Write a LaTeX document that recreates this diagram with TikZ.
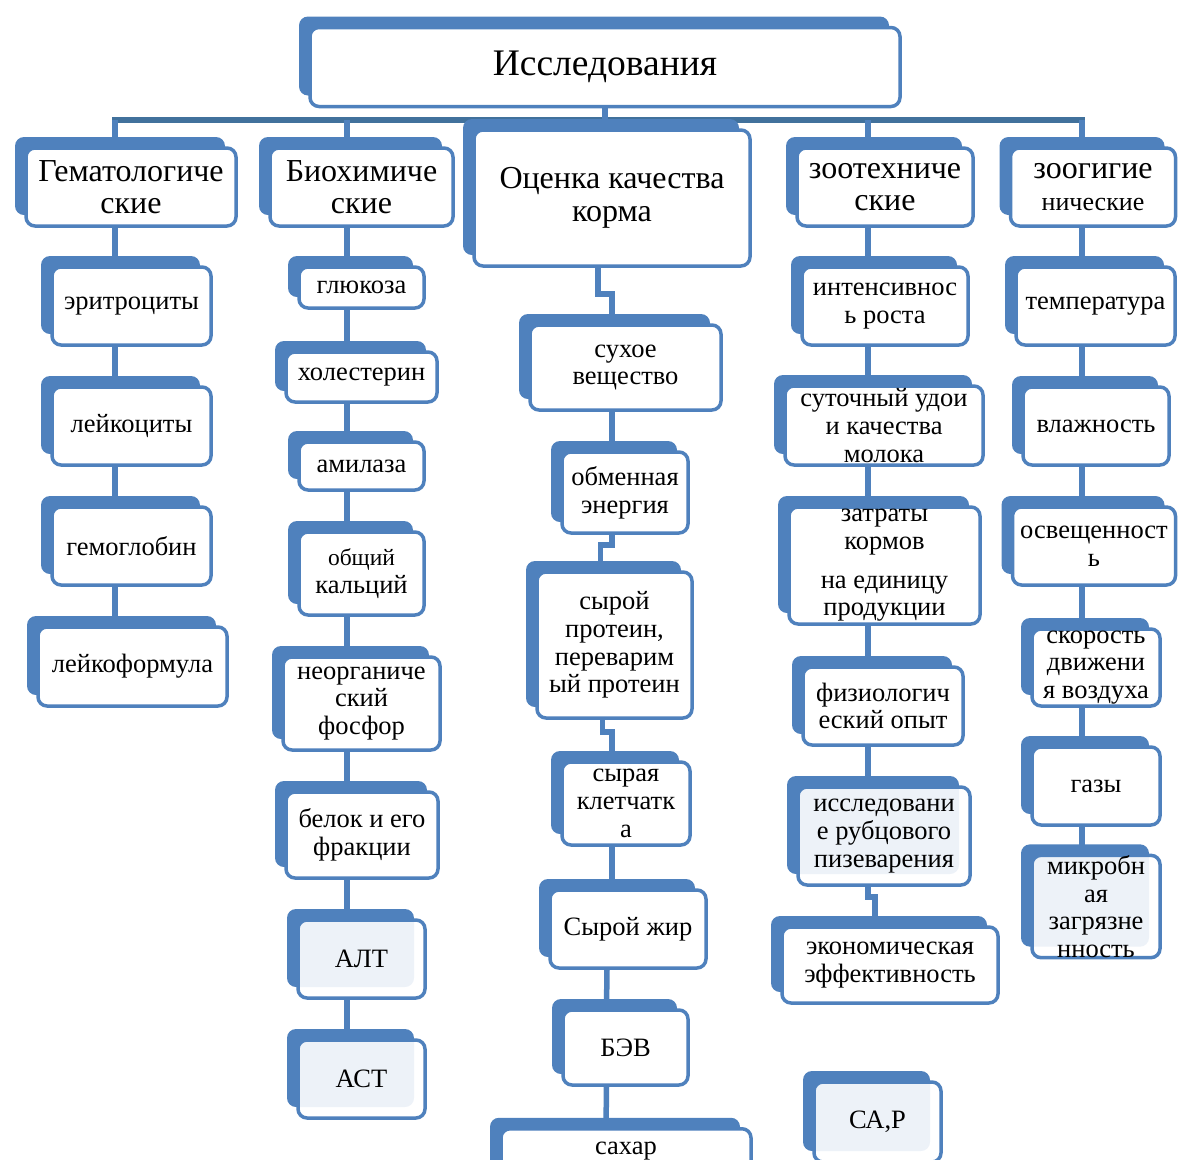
\documentclass[tikz,border=0pt]{standalone}
\usepackage{fontspec}
\setmainfont{Liberation Serif}
\usepackage{xcolor}
\usetikzlibrary{shadows}
\definecolor{boxblue}{HTML}{4F81BD}
\definecolor{barblue}{HTML}{41719C}
\pgfdeclarelayer{bg}
\pgfsetlayers{bg,main}

\begin{document}
\begin{tikzpicture}[x=1pt, y=-1pt,
    main/.style = {draw=boxblue, line width=3.5pt, rounded corners=9pt, fill=white, align=center, inner sep=0pt,
        general shadow={fill=boxblue, fill opacity=1, shadow xshift=-11pt, shadow yshift=11pt},
        font=\fontsize{26.5}{27.7}\selectfont},
    head/.style = {main, font=\fontsize{32}{32}\selectfont},
    lite/.style = {main, fill opacity=0.9, text opacity=1},
    sz/.style 2 args = {minimum width=#1, minimum height=#2},
    conn/.style = {draw=boxblue, line width=5.5pt},
    topbar/.style = {draw=barblue, line width=6pt, line cap=rect}]
    \useasboundingbox (0,0) rectangle (1179,1160);
    \clip (0,0) rectangle (1179,1160);

    \node[main, sz={590}{79}, font=\fontsize{37.5}{40}\selectfont] (0) at (605,67) {Исследования};

    \node[head, sz={210}{78}] (1) at (131,187)   {Гематологиче\\ские};
    \node[head, sz={183}{78}] (2) at (361.5,187) {Биохимиче\\ские};
    \node[head, sz={276}{136}, font=\fontsize{32}{33}\selectfont] (3) at (612,198) {Оценка качества\\корма};
    \node[head, sz={176}{78}] (4) at (885,187)   {зоотехниче\\ские};
    \node[head, sz={165}{78}] (5) at (1093,187)  {зоогигие\\{\fontsize{26}{28}\selectfont нические}};

    \node[main, sz={159}{78}] (11) at (131.5,306) {эритроциты};
    \node[main, sz={159}{78}] (12) at (131.5,426) {лейкоциты};
    \node[main, sz={159}{78}] (13) at (131.5,546) {гемоглобин};
    \node[main, sz={189}{79}] (14) at (132.5,666.5) {лейкоформула};

    \node[main, sz={125}{41}] (21) at (361.5,287.5) {глюкоза};
    \node[main, sz={151}{50}] (22) at (361.5,377)   {холестерин};
    \node[main, sz={125}{48}] (23) at (361.5,466)   {амилаза};
    \node[main, sz={125}{83}] (24) at (361.5,573.5) {{\fontsize{23.5}{26}\selectfont общий}\\кальций};
    \node[main, sz={157}{93}] (25) at (361.5,703.5) {неорганиче\\ский\\фосфор};
    \node[main, sz={152}{86}] (26) at (362,835)     {белок и его\\фракции};
    \node[lite, sz={127}{78}] (27) at (361.5,959)   {АЛТ};
    \node[lite, sz={127}{78}] (28) at (361.5,1079)  {АСТ};

    \node[main, sz={191}{85}]  (31) at (625.5,367.5) {сухое\\вещество};
    \node[main, sz={126}{81}]  (32) at (625,492.5)   {обменная\\энергия};
    \node[main, sz={155}{146}] (33) at (614.5,645)   {сырой\\протеин,\\переварим\\ый протеин};
    \node[main, sz={128}{83}]  (34) at (626,803.5)   {сырая\\клетчатк\\а};
    \node[main, sz={156}{78}]  (35) at (628,929)     {Сырой жир};
    \node[main, sz={125}{75}]  (36) at (625.5,1047.5) {БЭВ};
    \node[main, sz={250}{66}, anchor=north] (37) at (626,1127) {сахар\\~};

    \node[main, sz={166}{78}]  (41) at (885,306)     {интенсивнос\\ь роста};
    \node[main, sz={198}{79}]  (42) at (884,425.5)   {суточный удои\\и качества\\молока};
    \node[main, sz={191}{117}] (43) at (884.5,565.5) {затраты\\кормов\\[11pt]на единицу\\продукции};
    \node[main, sz={160}{78}]  (44) at (883,706)     {физиологич\\еский опыт};
    \node[lite, sz={172}{98}]  (45) at (884,836)     {исследовани\\е рубцового\\пизеварения};
    \node[main, sz={216}{76}]  (46) at (890,965)     {экономическая\\эффективность};
    \node[lite, sz={127}{80}]  (47) at (877.5,1122)  {СА,Р};

    \node[main, sz={159}{78}] (51) at (1095.5,306) {температура};
    \node[main, sz={146}{78}] (52) at (1096,426)   {влажность};
    \node[main, sz={163}{78}] (53) at (1094,546)   {освещенност\\ь};
    \node[main, sz={128}{77}] (54) at (1096,667.5) {скорость\\движени\\я воздуха};
    \node[main, sz={128}{78}] (55) at (1096,786)   {газы};
    \node[lite, sz={128}{77}] (56) at (1096,906.5) {микробн\\ая\\загрязне\\нность};

    \coordinate (bar) at (0,120);
    \coordinate (c1) at (115,0);
    \coordinate (c2) at (347,0);
    \coordinate (c3) at (612,0);
    \coordinate (c4) at (868,0);
    \coordinate (c5) at (1082,0);

    \begin{pgfonlayer}{bg}
    \draw[topbar] (c1 |- bar) -- (c5 |- bar);
    \draw[conn] (0.south) -- (0.south |- bar);
    \draw[conn] (c1 |- bar) -- (1.north -| c1);
    \draw[conn] (c2 |- bar) -- (2.north -| c2);
    \draw[conn] (c4 |- bar) -- (4.north -| c4);
    \draw[conn] (c5 |- bar) -- (5.north -| c5);

    \draw[conn] (1.south -| c1) -- (11.north -| c1);
    \draw[conn] (11.south -| c1) -- (12.north -| c1);
    \draw[conn] (12.south -| c1) -- (13.north -| c1);
    \draw[conn] (13.south -| c1) -- (14.north -| c1);

    \draw[conn] (2.south -| c2) -- (21.north -| c2);
    \draw[conn] (21.south -| c2) -- (22.north -| c2);
    \draw[conn] (22.south -| c2) -- (23.north -| c2);
    \draw[conn] (23.south -| c2) -- (24.north -| c2);
    \draw[conn] (24.south -| c2) -- (25.north -| c2);
    \draw[conn] (25.south -| c2) -- (26.north -| c2);
    \draw[conn] (26.south -| c2) -- (27.north -| c2);
    \draw[conn] (27.south -| c2) -- (28.north -| c2);

    \draw[conn] ([xshift=-14pt]3.south) -- ++(0,26) -| (31.north -| c3);
    \draw[conn] (31.south -| c3) -- (32.north -| c3);
    \draw[conn] (32.south -| c3) -- ++(0,10) -| ([xshift=-14pt]33.north);
    \draw[conn] ([xshift=-12pt]33.south) -- ++(0,12) -| (34.north -| c3);
    \draw[conn] (34.south -| c3) -- (35.north -| c3);
    \draw[conn] ([xshift=-21pt]35.south) -- ([xshift=-19pt]36.north);
    \draw[conn] ([xshift=-19pt]36.south) -- ([xshift=-20pt]37.north);

    \draw[conn] (4.south -| c4) -- (41.north -| c4);
    \draw[conn] (41.south -| c4) -- (42.north -| c4);
    \draw[conn] (42.south -| c4) -- (43.north -| c4);
    \draw[conn] (43.south -| c4) -- (44.north -| c4);
    \draw[conn] (44.south -| c4) -- (45.north -| c4);
    \draw[conn] (45.south -| c4) -- ++(0,10) -| ([xshift=-15pt]46.north);

    \draw[conn] (5.south -| c5) -- (51.north -| c5);
    \draw[conn] (51.south -| c5) -- (52.north -| c5);
    \draw[conn] (52.south -| c5) -- (53.north -| c5);
    \draw[conn] (53.south -| c5) -- (54.north -| c5);
    \draw[conn] (54.south -| c5) -- (55.north -| c5);
    \draw[conn] (55.south -| c5) -- (56.north -| c5);
    \end{pgfonlayer}
\end{tikzpicture}
\end{document}
